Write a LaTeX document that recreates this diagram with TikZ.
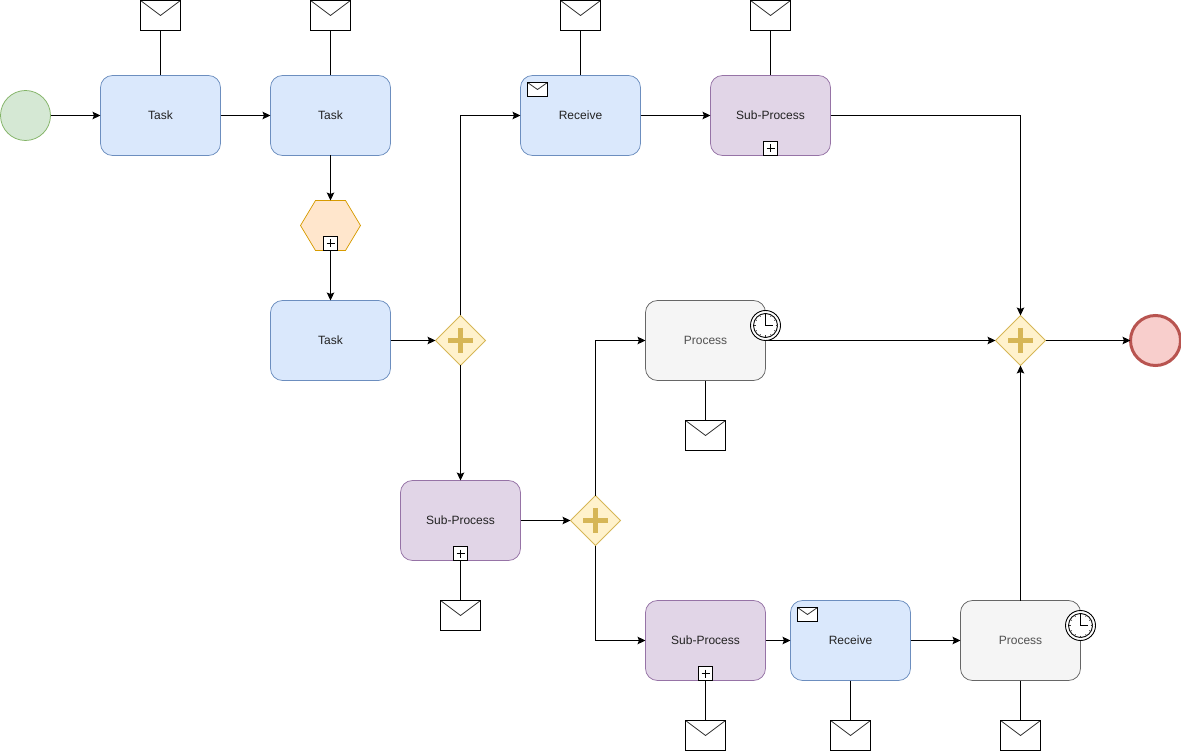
\documentclass[tikz,border=0pt]{standalone}
\usepackage{fontspec}
\setmainfont{Liberation Sans}
\usetikzlibrary{arrows.meta,shapes.geometric,calc}
\definecolor{blueF}{HTML}{DAE8FC}\definecolor{blueD}{HTML}{6C8EBF}
\definecolor{purpF}{HTML}{E1D5E7}\definecolor{purpD}{HTML}{9673A6}
\definecolor{grayF}{HTML}{F5F5F5}\definecolor{grayD}{HTML}{666666}
\definecolor{greenF}{HTML}{D5E8D4}\definecolor{greenD}{HTML}{82B366}
\definecolor{redF}{HTML}{F8CECC}\definecolor{redD}{HTML}{B85450}
\definecolor{yelF}{HTML}{FFF2CC}\definecolor{yelD}{HTML}{D6B656}
\definecolor{orF}{HTML}{FFE6CC}\definecolor{orD}{HTML}{D79B00}
\definecolor{txt}{HTML}{222222}
\definecolor{proctxt}{HTML}{505050}
\tikzset{
  box/.style={rectangle,rounded corners=12pt,minimum width=120pt,minimum height=80pt,inner sep=0pt,outer sep=0pt,line width=.75pt,text=txt,font=\fontsize{12}{14}\selectfont},
  taskbox/.style={box,fill=blueF,draw=blueD},
  subbox/.style={box,fill=purpF,draw=purpD},
  procbox/.style={box,fill=grayF,draw=grayD,text=proctxt},
  evstart/.style={circle,minimum size=50pt,inner sep=0pt,outer sep=0pt,fill=greenF,draw=greenD,line width=.75pt},
  evend/.style={circle,minimum size=50pt,inner sep=0pt,outer sep=0pt,fill=redF,draw=redD,line width=3pt},
  gate/.style={diamond,aspect=1,minimum size=50pt,inner sep=0pt,outer sep=0pt,fill=yelF,draw=yelD,line width=.75pt,
    path picture={
      \draw[yelD,line width=5pt] ($(path picture bounding box.center)+(-12.5,0)$) -- ($(path picture bounding box.center)+(12.5,0)$);
      \draw[yelD,line width=5pt] ($(path picture bounding box.center)+(0,-12.5)$) -- ($(path picture bounding box.center)+(0,12.5)$);
    }},
  hexa/.style={rectangle,minimum width=60pt,minimum height=50pt,inner sep=0pt,outer sep=0pt},
  envelope/.style={rectangle,minimum width=40pt,minimum height=30pt,inner sep=0pt,outer sep=0pt,fill=white,draw=black,line width=1pt,
    path picture={\draw[line width=.8pt,black!80] (path picture bounding box.north west) -- (path picture bounding box.center) -- (path picture bounding box.north east);}},
  smallenv/.style={envelope,minimum width=20pt,minimum height=14pt},
  plusbox/.style={rectangle,minimum size=14pt,inner sep=0pt,outer sep=0pt,fill=white,draw=black,line width=.8pt,
    path picture={
      \draw[line width=.9pt] ($(path picture bounding box.center)+(-4,0)$) -- ($(path picture bounding box.center)+(4,0)$);
      \draw[line width=.9pt] ($(path picture bounding box.center)+(0,-4)$) -- ($(path picture bounding box.center)+(0,4)$);
    }},
  clockbox/.style={circle,minimum size=30pt,inner sep=0pt,outer sep=0pt,fill=white,draw=black,line width=.9pt,
    path picture={
      \begin{scope}[shift={(path picture bounding box.center)}]
        \draw[line width=.9pt] (0,0) circle (12);
        \foreach \a in {0,30,...,330}{\draw[line width=.6pt,black!80] (\a:10) -- (\a:12);}
        \draw[line width=.9pt] (0,-12) -- (0,0) -- (7.5,0);
      \end{scope}
    }},
  flow/.style={draw=black,line width=1pt,-{Stealth[length=8pt,width=7.5pt,inset=1.5pt]}},
  assoc/.style={draw=black,line width=1pt},
}
\begin{document}
\begin{tikzpicture}[x=1pt,y=-1pt]
\useasboundingbox (-0.5,-0.5) rectangle (1180.5,750.5);
\node[evstart] (start) at (25,115) {};
\node[taskbox] (t1) at (160,115) {Task};
\node[taskbox] (t2) at (330,115) {Task};
\node[hexa] (hex) at (330,225) {};
\fill[orF] (hex.west) -- ($(hex.north west)+(15,0)$) -- ($(hex.north east)+(-15,0)$) -- (hex.east) -- ($(hex.south east)+(-15,0)$) -- ($(hex.south west)+(15,0)$) -- cycle;
\draw[orD,line width=.75pt] (hex.west) -- ($(hex.north west)+(15,0)$) -- ($(hex.north east)+(-15,0)$) -- (hex.east) -- ($(hex.south east)+(-15,0)$) -- ($(hex.south west)+(15,0)$) -- cycle;
\node[taskbox] (t3) at (330,340) {Task};
\node[gate] (g1) at (460,340) {};
\node[taskbox] (r1) at (580,115) {Receive};
\node[subbox] (s1) at (770,115) {Sub-Process};
\node[subbox] (s2) at (460,520) {Sub-Process};
\node[gate] (g2) at (595,520) {};
\node[procbox] (p1) at (705,340) {Process};
\node[gate] (g3) at (1020,340) {};
\node[evend] (end) at (1155,340) {};
\node[subbox] (s3) at (705,640) {Sub-Process};
\node[taskbox] (r2) at (850,640) {Receive};
\node[procbox] (p2) at (1020,640) {Process};

\node[envelope] (e1) at (160,15) {};
\node[envelope] (e2) at (330,15) {};
\node[envelope] (e3) at (580,15) {};
\node[envelope] (e4) at (770,15) {};
\node[envelope] (e5) at (705,435) {};
\node[envelope] (e6) at (460,615) {};
\node[envelope] (e7) at (705,735) {};
\node[envelope] (e8) at (850,735) {};
\node[envelope] (e9) at (1020,735) {};

\draw[assoc] (e1) -- (t1);
\draw[assoc] (e2) -- (t2);
\draw[assoc] (e3) -- (r1);
\draw[assoc] (e4) -- (s1);
\draw[assoc] (p1) -- (e5);
\draw[assoc] (s2) -- (e6);
\draw[assoc] (s3) -- (e7);
\draw[assoc] (r2) -- (e8);
\draw[assoc] (p2) -- (e9);

\draw[flow] (start) -- (t1);
\draw[flow] (t1) -- (t2);
\draw[flow] (t2) -- (hex);
\draw[flow] (hex) -- (t3);
\draw[flow] (t3) -- (g1);
\draw[flow] (g1.north) |- (r1.west);
\draw[flow] (r1) -- (s1);
\draw[flow] (s1.east) -| (g3.north);
\draw[flow] (g1) -- (s2);
\draw[flow] (s2) -- (g2);
\draw[flow] (g2.north) |- (p1.west);
\draw[flow] (g2.south) |- (s3.west);
\draw[flow] (s3) -- (r2);
\draw[flow] (r2) -- (p2);
\draw[flow] (p2) -- (g3);
\draw[flow] (p1) -- (g3);
\draw[flow] (g3) -- (end);

\node[plusbox] (m0) at (330,243) {};
\node[plusbox] (m1) at (770,148) {};
\node[plusbox] (m2) at (460,553) {};
\node[plusbox] (m3) at (705,673) {};
\node[smallenv] (se1) at (537,89) {};
\node[smallenv] (se2) at (807,614) {};
\node[clockbox] (c1) at (765,325) {};
\node[clockbox] (c2) at (1080,625) {};
\end{tikzpicture}
\end{document}
